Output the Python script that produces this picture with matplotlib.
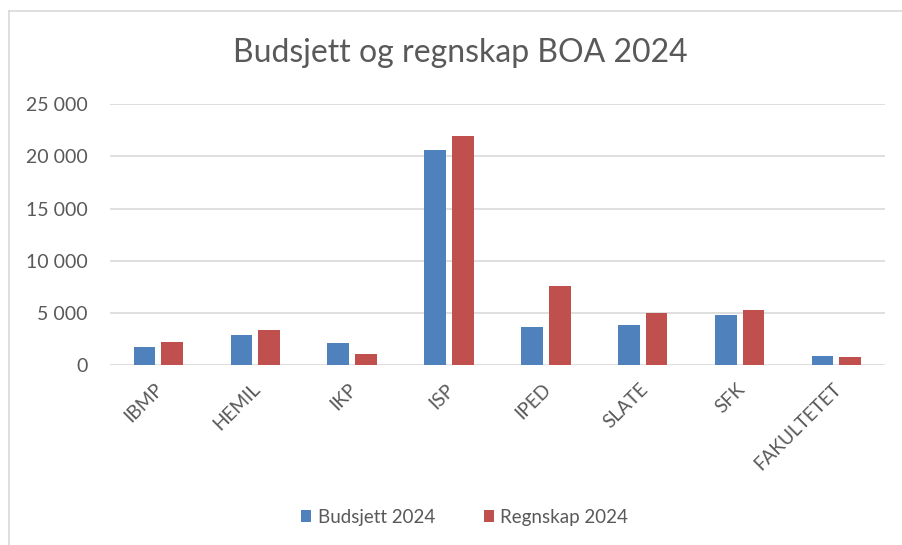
import numpy as np
import matplotlib
matplotlib.use("Agg")
import matplotlib.pyplot as plt
from matplotlib.lines import Line2D
from matplotlib.ticker import FuncFormatter

# data
enheter = ["IBMP", "HEMIL", "IKP", "ISP", "IPED", "SLATE", "SFK", "FAKULTETET"]
budsjett = [1760, 2850, 2150, 20640, 3620, 3880, 4810, 900]
regnskap = [2210, 3370, 1090, 21990, 7600, 5000, 5290, 800]
serier = ["Budsjett 2024", "Regnskap 2024"]

plt.rcParams["font.family"] = ["Lato", "DejaVu Sans"]
tekst = "#595959"

fig = plt.figure(figsize=(9.02, 5.45), dpi=100)
ax = fig.add_axes([0.122, 0.330, 0.859, 0.479])

x = np.arange(len(enheter))
w = 0.224
gap = 0.062
ax.bar(x - (w + gap) / 2, budsjett, w, color="#4F81BD", label=serier[0], zorder=3)
ax.bar(x + (w + gap) / 2, regnskap, w, color="#C0504D", label=serier[1], zorder=3)

ax.set_xlim(-0.5, len(enheter) - 0.5)
ax.set_ylim(0, 25000)
ax.set_yticks(np.arange(0, 25001, 5000))
ax.yaxis.set_major_formatter(FuncFormatter(lambda v, p: f"{int(v):,}".replace(",", " ")))
ax.grid(axis="y", color="#d9d9d9", linewidth=1.2, zorder=0)
for s in ax.spines.values():
    s.set_visible(False)
ax.tick_params(axis="both", length=0, colors=tekst)
ax.tick_params(axis="y", pad=16, labelsize=14)

ax.set_xticks(x - 0.04)
ax.set_xticklabels(enheter, rotation=45, ha="right", va="top", rotation_mode="anchor")
ax.tick_params(axis="x", pad=11, labelsize=13.6)

fig.text(0.51, 0.903, "Budsjett og regnskap BOA 2024", ha="center", va="center",
         fontsize=23, color=tekst)

fig.legend(loc="center", bbox_to_anchor=(0.515, 0.051), ncol=2, frameon=False,
           fontsize=13.5, labelcolor=tekst, handlelength=0.55, handleheight=0.55,
           handletextpad=0.35, columnspacing=2.6)

# light frame (only left/top edges visible in the crop)
fig.add_artist(Line2D([9 / 902, 9 / 902], [0, 1 - 11 / 545], transform=fig.transFigure,
                      color="#d9d9d9", linewidth=1.2))
fig.add_artist(Line2D([9 / 902, 1], [1 - 11 / 545, 1 - 11 / 545], transform=fig.transFigure,
                      color="#d9d9d9", linewidth=1.2))

fig.savefig("out.png", dpi=100)
